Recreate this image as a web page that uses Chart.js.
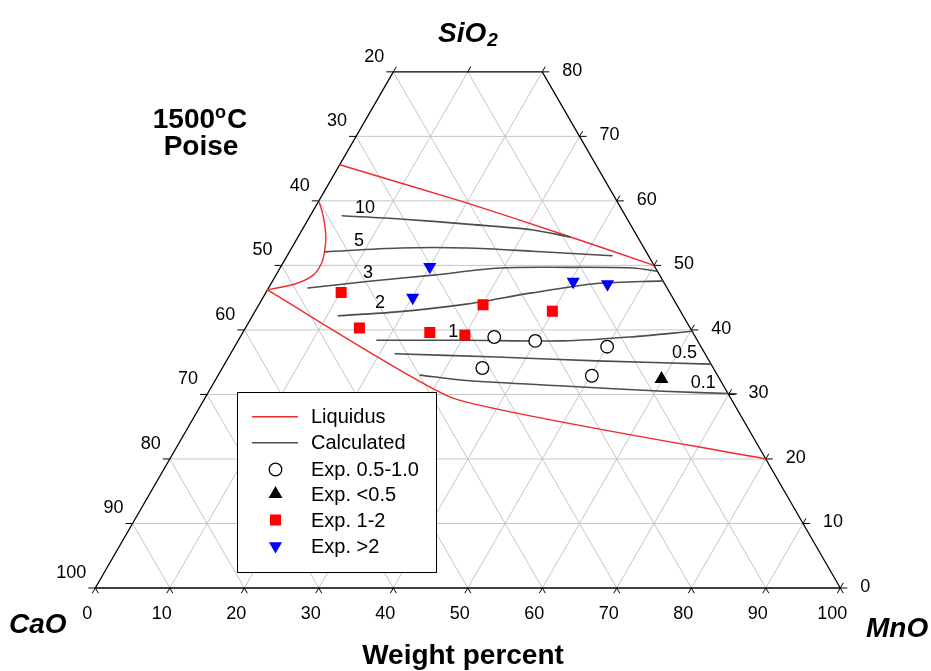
<!DOCTYPE html>
<html>
<head>
<meta charset="utf-8">
<script src="https://cdn.jsdelivr.net/npm/chart.js@4.4.1/dist/chart.umd.min.js"></script>
<style>
  html, body { margin: 0; padding: 0; background: #ffffff; }
  canvas { display: block; }
</style>
</head>
<body>
<canvas id="chart" width="931" height="671"></canvas>
<script>
// Compositions in weight percent, written as [MnO, SiO2]; CaO is the remainder.

// Axis tick values
const mnoTicks  = [0, 10, 20, 30, 40, 50, 60, 70, 80, 90, 100];
const sio2Ticks = [0, 10, 20, 30, 40, 50, 60, 70, 80];
const caoTicks  = [20, 30, 40, 50, 60, 70, 80, 90, 100];
const gridSteps = [10, 20, 30, 40, 50, 60, 70, 80, 90];

// Liquidus boundary at 1500 °C
const liquidusUpper = [[0, 65.6], [20, 59.7], [36, 54.6], [50, 50]];
const liquidusLeft  = [[0, 60], [1.8, 57.6], [3.7, 54.5], [4.6, 52.4], [5.2, 50.3], [5.0, 48.5], [3.4, 47.2], [0, 46.2]];
const liquidusLower = [[0, 46.2], [33.4, 29.4], [80, 20]];

// Calculated iso-viscosity lines (Poise)
const contourLevels = ['10', '5', '3', '2', '1', '0.5', '0.1'];
const iso10  = [[4.3, 57.7], [12.3, 57.2], [21.7, 56.4], [31.0, 55.5], [36.5, 54.4]];
const iso5   = [[4.8, 52.1], [14.6, 52.7], [23.5, 52.7], [32.6, 52.2], [43.6, 51.5]];
const iso3   = [[5.3, 46.5], [12.7, 47.5], [21.1, 48.5], [29.5, 49.6], [38.4, 49.7], [47.4, 49.6], [50.8, 49.1]];
const iso2   = [[11.5, 42.2], [19.1, 42.8], [27.8, 44.0], [35.5, 45.7], [43.7, 47.2], [52.4, 47.6]];
const iso1   = [[18.6, 38.4], [30.2, 38.4], [43.7, 38.3], [52.3, 38.9], [60.3, 39.8]];
const iso05  = [[22.1, 36.3], [36.0, 35.8], [49.7, 35.2], [65.2, 34.7]];
const iso01  = [[27.1, 33.0], [33.3, 32.2], [47.2, 31.3], [61.0, 30.5], [71.0, 30.1]];
const isoLines = [iso10, iso5, iso3, iso2, iso1, iso05, iso01];

// Measured viscosities, grouped by range (Poise)
const expMid    = [[34.1, 38.9], [39.9, 38.3], [50.0, 37.4], [34.9, 34.1], [50.2, 32.9]]; // 0.5-1.0
const expLow    = [[59.8, 32.4]];                                                         // <0.5
const expOneTwo = [[10.1, 45.8], [15.3, 40.3], [25.1, 39.6], [30.0, 39.2], [30.1, 43.9], [39.9, 42.9]]; // 1-2
const expHigh   = [[20.0, 49.8], [20.1, 45.0], [40.4, 47.5], [45.2, 47.1]];               // >2

// Text
const titleTop = 'SiO';
const cornerLeft = 'CaO';
const cornerRight = 'MnO';
const xTitle = 'Weight percent';
const tempLabel = '1500';
const unitLabel = 'Poise';
const legendLabels = ['Liquidus', 'Calculated', 'Exp. 0.5-1.0', 'Exp. <0.5', 'Exp. 1-2', 'Exp. >2'];

// ---------------------------------------------------------------------------
const H = Math.sqrt(3) / 2;
const toXY = ([mno, sio2]) => ({ x: mno + sio2 / 2, y: sio2 * H });
const path = pts => pts.map(toXY);

const FONT = '"Liberation Sans", Arial, Helvetica, sans-serif';
const GRID = '#c6c6c6';
const RED = '#f22a2a';
const DARK = '#4d4d4d';

const datasets = [];

// light grid: constant SiO2, constant MnO, constant CaO
sio2Ticks.filter(s => s > 0 && s < 80).forEach(s => {
  datasets.push({ kind: 'grid', data: path([[0, s], [100 - s, s]]) });
});
gridSteps.forEach(m => {
  const top = Math.min(100 - m, 80);
  datasets.push({ kind: 'grid', data: path([[m, 0], [m, top]]) });
});
gridSteps.forEach(c => {
  const top = Math.min(100 - c, 80);
  datasets.push({ kind: 'grid', data: path([[100 - c, 0], [100 - c - top, top]]) });
});

// triangle outline, cut at SiO2 = 80
datasets.push({ kind: 'frame', data: path([[0, 0], [100, 0], [20, 80], [0, 80], [0, 0]]) });

// liquidus
[liquidusUpper, liquidusLeft, liquidusLower].forEach((pts, i) => {
  datasets.push({ kind: 'liquidus', data: path(pts), tension: i === 1 ? 0.4 : 0.15 });
});

// calculated lines
isoLines.forEach(pts => datasets.push({ kind: 'iso', data: path(pts), tension: 0.3 }));

// experimental points
const markerStyles = {
  mid:    { pointStyle: 'circle',   radius: 6.3, rotation: 0,   bg: '#ffffff', border: '#000000', bw: 1.3 },
  low:    { pointStyle: 'triangle', radius: 8,   rotation: 0,   bg: '#000000', border: '#000000', bw: 0 },
  onetwo: { pointStyle: 'rect',     radius: 7.8, rotation: 0,   bg: '#ff0000', border: '#ff0000', bw: 0 },
  high:   { pointStyle: 'triangle', radius: 7.6, rotation: 180, bg: '#0000ff', border: '#0000ff', bw: 0 }
};
[['mid', expMid], ['low', expLow], ['onetwo', expOneTwo], ['high', expHigh]].forEach(([k, pts]) => {
  const st = markerStyles[k];
  datasets.push({
    kind: 'marker', data: path(pts), showLine: false,
    pointStyle: st.pointStyle, pointRadius: st.radius, pointRotation: st.rotation,
    pointBackgroundColor: st.bg, pointBorderColor: st.border, pointBorderWidth: st.bw
  });
});

// lower order is painted on top
const layerOrder = { grid: 5, frame: 4, liquidus: 3, iso: 2, marker: 1 };
datasets.forEach(ds => {
  ds.order = layerOrder[ds.kind];
  if (ds.kind === 'marker') return;
  ds.showLine = true;
  ds.pointRadius = 0;
  ds.fill = false;
  ds.borderCapStyle = 'round';
  if (ds.kind === 'grid')     { ds.borderColor = GRID;  ds.borderWidth = 1; }
  if (ds.kind === 'frame')    { ds.borderColor = '#000000'; ds.borderWidth = 1.3; ds.borderJoinStyle = 'miter'; }
  if (ds.kind === 'liquidus') { ds.borderColor = RED;   ds.borderWidth = 1.4; }
  if (ds.kind === 'iso')      { ds.borderColor = DARK;  ds.borderWidth = 1.6; }
});

// anchors for the value labels on the calculated lines, [MnO, SiO2]
const isoLabelAt = [[6.75, 58.9], [8.5, 53.8], [12.2, 48.8], [16.1, 44.2], [28.2, 39.7], [60.9, 36.4], [65.7, 31.8]];

const annotate = {
  id: 'ternaryText',
  afterDatasetsDraw(chart) {
    const { ctx } = chart;
    const xs = chart.scales.x, ys = chart.scales.y;
    const P = (m, s) => { const p = toXY([m, s]); return [xs.getPixelForValue(p.x), ys.getPixelForValue(p.y)]; };
    const stub = (x, y, ang, len) => {
      ctx.moveTo(x, y);
      ctx.lineTo(x + len * Math.cos(ang), y - len * Math.sin(ang));
    };
    ctx.save();

    // tick marks
    ctx.strokeStyle = '#000000';
    ctx.lineWidth = 1;
    ctx.beginPath();
    caoTicks.forEach(c => { const [x, y] = P(0, 100 - c); stub(x, y, Math.PI, 7); });
    mnoTicks.forEach(m => {
      const [x, y] = P(m, 0);
      stub(x, y, -Math.PI / 3, 6); stub(x, y, -2 * Math.PI / 3, 6);
    });
    sio2Ticks.forEach(s => {
      const [x, y] = P(100 - s, s);
      stub(x, y, 0, 7); stub(x, y, Math.PI / 3, 6);
    });
    [0, 10].forEach(m => { const [x, y] = P(m, 80); stub(x, y, Math.PI / 3, 6); });
    ctx.stroke();

    // tick labels
    ctx.fillStyle = '#000000';
    ctx.font = '18px ' + FONT;
    ctx.textBaseline = 'middle';
    ctx.textAlign = 'right';
    caoTicks.forEach(c => { const [x, y] = P(0, 100 - c); ctx.fillText(String(c), x - 9, y - 15); });
    ctx.textAlign = 'center';
    mnoTicks.forEach(m => { const [x, y] = P(m, 0); ctx.fillText(String(m), x - 8, y + 26); });
    ctx.textAlign = 'left';
    sio2Ticks.forEach(s => { const [x, y] = P(100 - s, s); ctx.fillText(String(s), x + 20, y - 1); });

    // values on the calculated lines
    ctx.textAlign = 'center';
    contourLevels.forEach((t, i) => {
      const [x, y] = P(isoLabelAt[i][0], isoLabelAt[i][1]);
      ctx.fillText(t, x, y);
    });

    // component names
    ctx.font = 'italic bold 28px ' + FONT;
    ctx.textAlign = 'left';
    ctx.textBaseline = 'alphabetic';
    ctx.fillText(titleTop, 438, 42);
    const wSiO = ctx.measureText(titleTop).width;
    ctx.font = 'italic bold 19px ' + FONT;
    ctx.fillText('2', 438 + wSiO + 1, 46);
    ctx.font = 'italic bold 28px ' + FONT;
    ctx.fillText(cornerLeft, 9, 633);
    ctx.fillText(cornerRight, 866, 637);

    ctx.font = 'bold 28px ' + FONT;
    ctx.textAlign = 'center';
    ctx.fillText(xTitle, 463, 664);

    // temperature and unit
    ctx.textAlign = 'left';
    const wNum = ctx.measureText(tempLabel).width;
    ctx.font = 'bold 18px ' + FONT;
    const wDeg = ctx.measureText('o').width;
    ctx.font = 'bold 28px ' + FONT;
    const wC = ctx.measureText('C').width;
    const startX = 200 - (wNum + wDeg + 1 + wC) / 2;
    ctx.fillText(tempLabel, startX, 128);
    ctx.font = 'bold 18px ' + FONT;
    ctx.fillText('o', startX + wNum, 118);
    ctx.font = 'bold 28px ' + FONT;
    ctx.fillText('C', startX + wNum + wDeg + 1, 128);
    ctx.textAlign = 'center';
    ctx.fillText(unitLabel, 201, 155);

    // legend box
    const bx = 237, by = 392, bw = 199, bh = 180;
    ctx.fillStyle = '#ffffff';
    ctx.fillRect(bx, by, bw, bh);
    ctx.strokeStyle = '#000000';
    ctx.lineWidth = 1;
    ctx.strokeRect(bx + 0.5, by + 0.5, bw, bh);

    const rows = [416.7, 442.7, 469.5, 494, 520, 546];
    ctx.lineWidth = 1.4;
    ctx.strokeStyle = RED;
    ctx.beginPath(); ctx.moveTo(252, rows[0]); ctx.lineTo(298, rows[0]); ctx.stroke();
    ctx.strokeStyle = DARK;
    ctx.beginPath(); ctx.moveTo(252, rows[1]); ctx.lineTo(298, rows[1]); ctx.stroke();

    ['mid', 'low', 'onetwo', 'high'].forEach((k, i) => {
      const st = markerStyles[k];
      ctx.fillStyle = st.bg;
      ctx.strokeStyle = st.border;
      ctx.lineWidth = st.bw;
      Chart.helpers.drawPoint(ctx, {
        pointStyle: st.pointStyle, radius: st.radius, rotation: st.rotation, borderWidth: st.bw
      }, 275.5, rows[i + 2]);
    });

    ctx.fillStyle = '#000000';
    ctx.font = '20px ' + FONT;
    ctx.textAlign = 'left';
    ctx.textBaseline = 'middle';
    legendLabels.forEach((t, i) => ctx.fillText(t, 311, rows[i] + 1));

    ctx.restore();
  }
};

// 7.45 px per composition unit on both axes keeps the triangle equilateral
new Chart(document.getElementById('chart'), {
  type: 'scatter',
  data: { datasets },
  options: {
    responsive: false,
    animation: false,
    events: [],
    layout: { padding: 0, autoPadding: false },
    plugins: { legend: { display: false }, tooltip: { enabled: false } },
    scales: {
      x: { type: 'linear', display: false, min: -12.792, max: 112.174 },
      y: { type: 'linear', display: false, min: -11.141, max: 78.926 }
    }
  },
  plugins: [annotate]
});
</script>
</body>
</html>
